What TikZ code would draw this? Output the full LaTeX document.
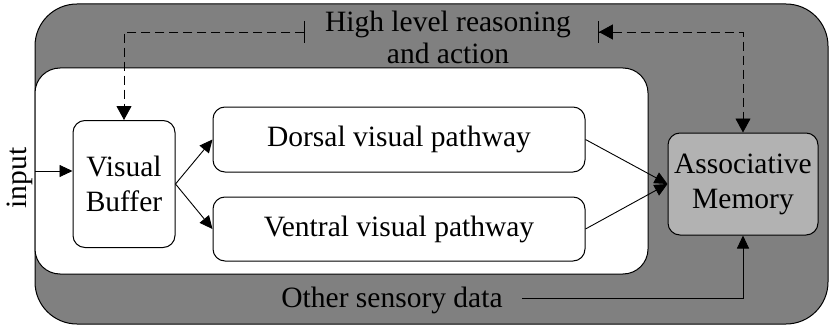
\documentclass[tikz,border=0pt]{standalone}
\usepackage{fontspec}
\setmainfont{Liberation Serif}
\usetikzlibrary{arrows.meta}

\begin{document}
\begin{tikzpicture}[
  x=1pt, y=-1pt,
  box/.style={draw, line width=1pt, rounded corners=12pt, align=center, inner sep=0pt},
  link/.style={line width=0.9pt, -{Triangle[length=13pt, width=12pt]}},
  back/.style={line width=0.9pt, dash pattern=on 9pt off 5pt},
  font=\fontsize{29.5}{35}\selectfont
]
\useasboundingbox (0,0) rectangle (833,329);

% --- background areas ---
\draw[line width=1pt, fill=gray, rounded corners=42pt] (35,4) rectangle (828,324);
\draw[line width=1pt, fill=white, rounded corners=25pt] (35,68) rectangle (648,274);

% --- boxes ---
\node[box, minimum width=102pt, minimum height=127pt] (vb) at (124,184) {Visual\\Buffer};
\node[box, minimum width=372pt, minimum height=65pt] (dorsal) at (399,139.5) {Dorsal visual pathway};
\node[box, minimum width=372pt, minimum height=64pt] (ventral) at (399,229) {Ventral visual pathway};
\node[box, fill=gray!60, minimum width=150pt, minimum height=102pt] (assoc) at (743,184) {Associative\\Memory};

% --- labels ---
\node[align=center, font=\fontsize{29.5}{32}\selectfont] (high) at (448,37) {High level reasoning\\and action};
\node (other) at (392,300) {Other sensory data};
\node[rotate=90] (input) at (20,178) {input};

% --- anchors ---
\coordinate (inp) at (35,171);
\coordinate (hl) at (305,32);
\coordinate (hr) at (598,32);
\coordinate (os) at (522,298);

% --- edges ---
\draw[link] (inp) -- (inp -| vb.west);
\draw[link] (vb.east) -- (dorsal.west);
\draw[link] (vb.east) -- (ventral.west);
\draw[link] (dorsal.east) -- (assoc.west);
\draw[link] (ventral.east) -- (assoc.west);
\draw[link] (os) -| (assoc.south);

% --- feedback ---
\draw[back, {Bar[width=22pt]}-{Triangle[length=14pt, width=15pt]}] (hl) -| (vb.north);
\draw[back, {Bar[width=22pt]Triangle[length=14pt, width=15pt]}-{Triangle[length=14pt, width=15pt]}] (hr) -| (assoc.north);

\end{tikzpicture}
\end{document}
